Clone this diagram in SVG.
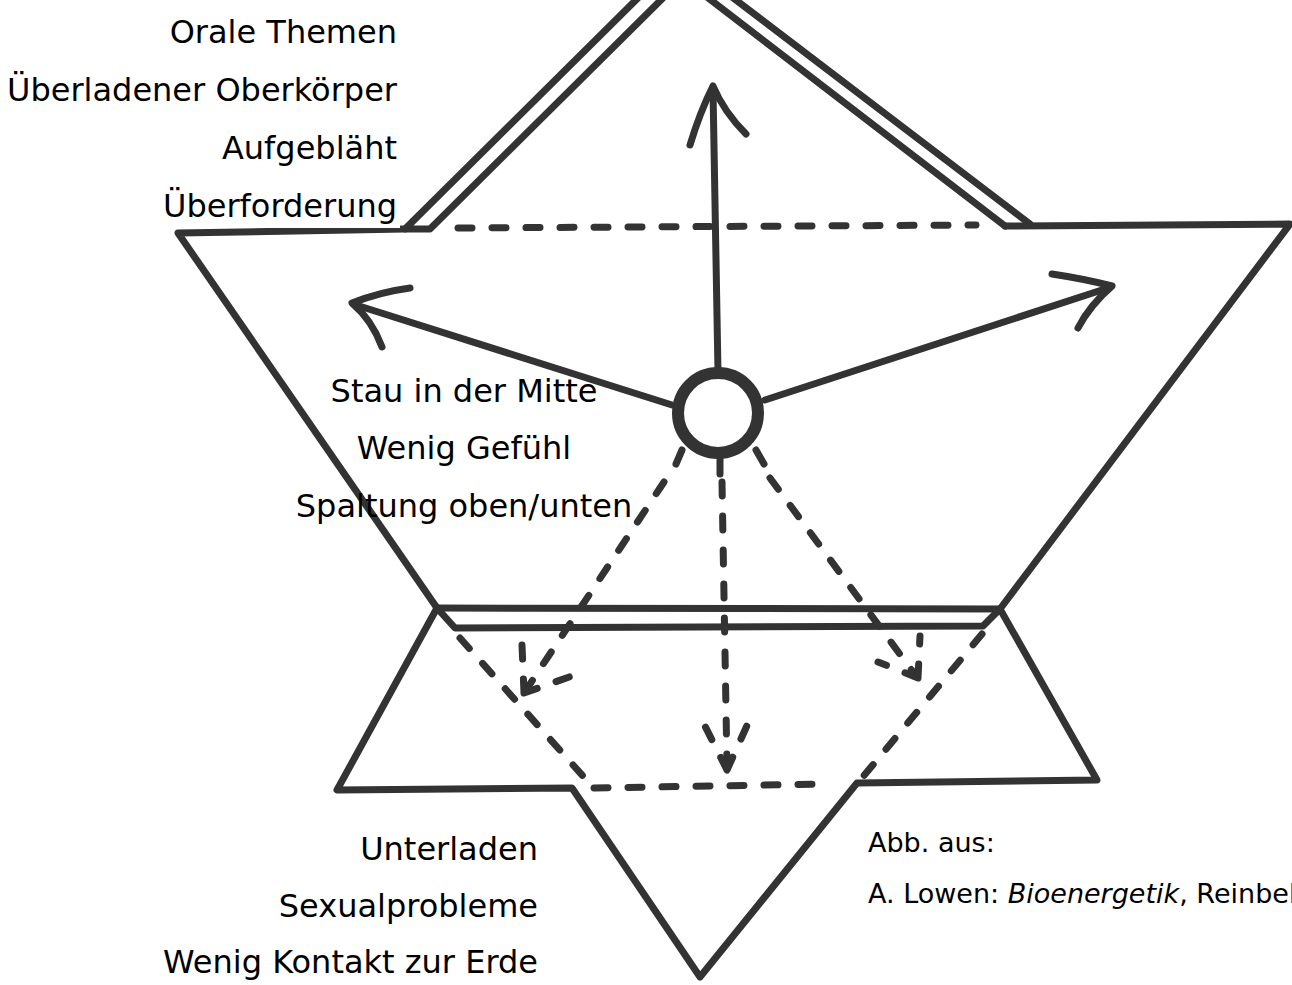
<svg xmlns="http://www.w3.org/2000/svg" width="1292" height="985" viewBox="0 0 1292 985">
<style>
.ln{fill:none;stroke:#333;stroke-width:7;stroke-linecap:round;stroke-linejoin:round}
.dash{fill:none;stroke:#333;stroke-width:7;stroke-linecap:round;stroke-dasharray:14 20}
.txt{font-family:"DejaVu Sans","Verdana",sans-serif;font-size:32px;fill:#000}
.small{font-family:"DejaVu Sans","Verdana",sans-serif;font-size:27px;fill:#000}
</style>
<rect width="1292" height="985" fill="#fff"/>
<g id="connectors">
<g id="outline">
<path class="ln" d="M642,-6 L405,229 L430,229 L667,-6"/>
<path class="ln" d="M703,-6 L1005,226 M728,-6 L1030,224"/>
<path class="ln" d="M405,229 L178,233 L437,608 L337,790 L572,788 L700,977 L857,783 L1097,780 L1000,609 L1290,224 L1005,226"/>
<path class="ln" d="M437,608 L1000,609"/>
<path class="ln" d="M437,608 L455,628 L983,626 L1000,609"/>
</g>
<g id="dashed-lines">
<path class="dash" d="M458,228 L976,225" stroke-dasharray="18 16"/>
<path class="dash" d="M594,788 L826,784" stroke-dasharray="16 22"/>
<path class="dash" d="M460,638 L590,784" stroke-dasharray="14 28"/>
<path class="dash" d="M982,634 L862,778" stroke-dasharray="16 26"/>
</g>
<g id="solid-arrows">
<path class="ln" d="M718,372 L713,90"/>
<path class="ln" d="M690,145 Q700,112 713,86 Q724,112 746,134"/>
<path class="ln" d="M672,405 L356,305"/>
<path class="ln" d="M410,288 Q380,292 352,303 Q372,320 382,347"/>
<path class="ln" d="M765,400 L1108,288"/>
<path class="ln" d="M1052,274 Q1085,279 1112,286 Q1090,305 1078,328"/>
</g>
<g id="dashed-arrows">
<path class="dash" d="M664,482 L526,690" stroke-dasharray="16 24"/>
<path class="dash" d="M524,693 L522,645 M524,693 L572,676" stroke-dasharray="14 10"/>
<path class="dash" d="M722,482 L727,766" stroke-dasharray="24 20"/>
<path class="dash" d="M727,770 L700,716 M727,770 L754,710" stroke-dasharray="22 12"/>
<path class="dash" d="M770,478 L916,676" stroke-dasharray="18 22"/>
<path class="dash" d="M918,678 L920,636 M918,678 L878,662" stroke-dasharray="14 10"/>
</g>
</g>
<g id="center-node">
<circle cx="718" cy="413" r="40" fill="#fff" stroke="#333" stroke-width="12"/>
<path class="ln" d="M682,450 L676,464 M720,458 L720,474 M756,450 L764,464"/>
</g>
<g id="labels-top">
<rect x="160" y="190" width="240" height="38" fill="#fff"/>
<text class="txt" x="397" y="43" text-anchor="end">Orale Themen</text>
<text class="txt" x="397" y="101" text-anchor="end">Überladener Oberkörper</text>
<text class="txt" x="397" y="159" text-anchor="end">Aufgebläht</text>
<text class="txt" x="397" y="217" text-anchor="end">Überforderung</text>
</g>
<g id="labels-center">
<text class="txt" x="464" y="402" text-anchor="middle">Stau in der Mitte</text>
<text class="txt" x="464" y="459" text-anchor="middle">Wenig Gefühl</text>
<text class="txt" x="464" y="517" text-anchor="middle">Spaltung oben/unten</text>
</g>
<g id="labels-bottom">
<text class="txt" x="538" y="860" text-anchor="end">Unterladen</text>
<text class="txt" x="538" y="917" text-anchor="end">Sexualprobleme</text>
<text class="txt" x="538" y="973" text-anchor="end">Wenig Kontakt zur Erde</text>
</g>
<g id="source">
<text class="small" x="868" y="852">Abb. aus:</text>
<text class="small" x="868" y="903">A. Lowen: <tspan font-style="italic">Bioenergetik</tspan>, Reinbek</text>
</g>
</svg>
